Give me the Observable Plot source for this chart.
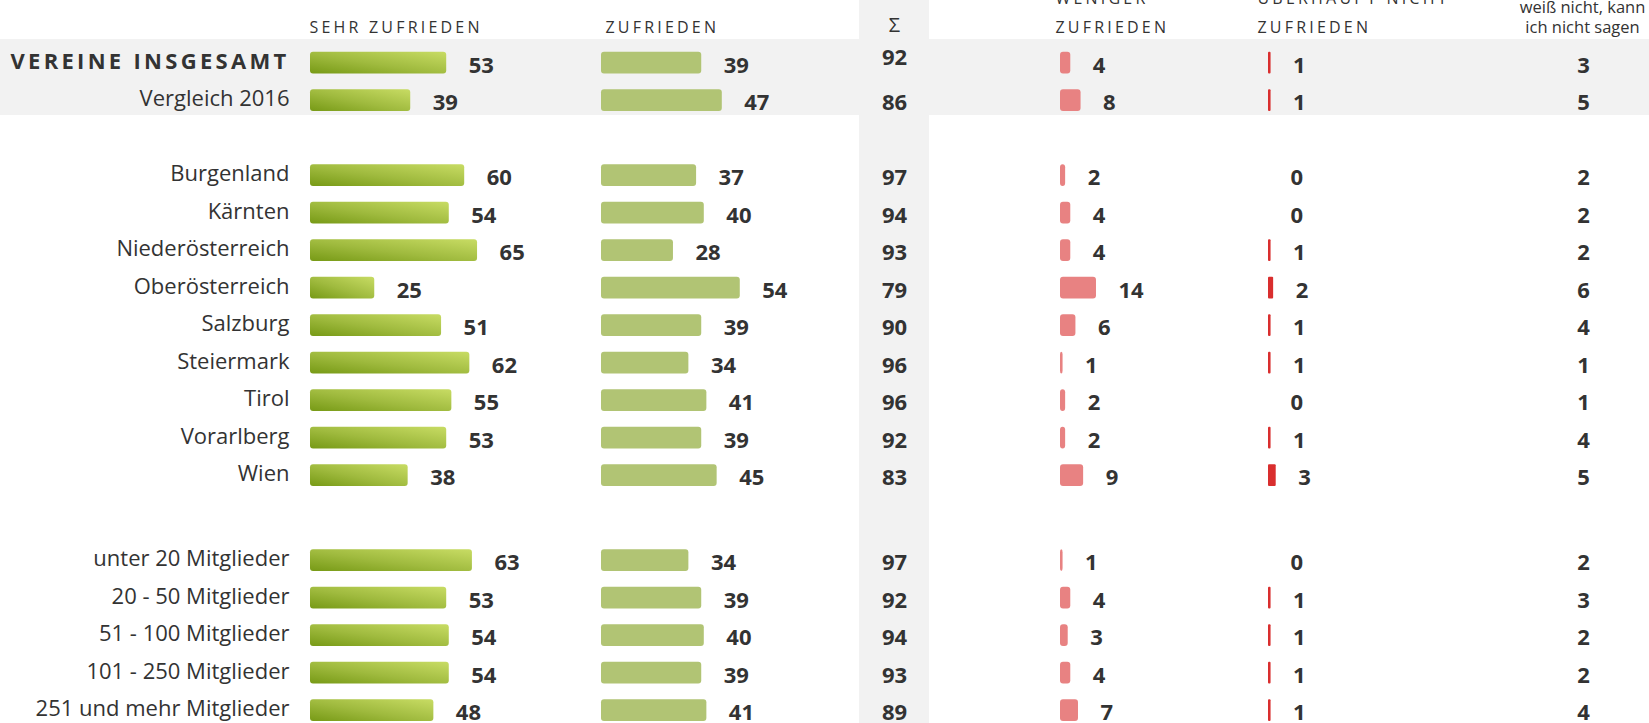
<!DOCTYPE html>
<html>
<head>
<meta charset="utf-8">
<script src="https://cdn.jsdelivr.net/npm/d3@7"></script>
<script src="https://cdn.jsdelivr.net/npm/@observablehq/plot@0.6"></script>
<style>
  html, body { margin: 0; padding: 0; background: #fff; overflow: hidden; }
</style>
</head>
<body>
<div id="chart"></div>
<script>
// ---------- DATA ----------
const totalRows = ["VEREINE INSGESAMT", "Vergleich 2016"];
const regionRows = ["Burgenland", "Kärnten", "Niederösterreich", "Oberösterreich", "Salzburg", "Steiermark", "Tirol", "Vorarlberg", "Wien"];
const sizeRows = ["unter 20 Mitglieder", "20 - 50 Mitglieder", "51 - 100 Mitglieder", "101 - 250 Mitglieder", "251 und mehr Mitglieder"];

const sehrZufrieden   = [53, 39, 60, 54, 65, 25, 51, 62, 55, 53, 38, 63, 53, 54, 54, 48];
const zufrieden       = [39, 47, 37, 40, 28, 54, 39, 34, 41, 39, 45, 34, 39, 40, 39, 41];
const summe           = [92, 86, 97, 94, 93, 79, 90, 96, 96, 92, 83, 97, 92, 94, 93, 89];
const wenigerZufr     = [4, 8, 2, 4, 4, 14, 6, 1, 2, 2, 9, 1, 4, 3, 4, 7];
const ueberhauptNicht = [1, 1, 0, 0, 1, 2, 1, 1, 0, 1, 3, 0, 1, 1, 1, 1];
const weissNicht      = [3, 5, 2, 2, 2, 6, 4, 1, 1, 4, 5, 2, 3, 2, 2, 4];

const headerSehr = "SEHR ZUFRIEDEN";
const headerZufr = "ZUFRIEDEN";
const headerSum = "Σ";
const headerWeniger = "WENIGER\nZUFRIEDEN";
const headerUeber = "ÜBERHAUPT NICHT\nZUFRIEDEN";
const headerWeiss = "weiß nicht, kann\nich nicht sagen";

// ---------- LAYOUT ----------
const W = 1649, H = 723;
const pxPerUnit = 2.57;      // pixels per percentage point
const originPx = 310;        // left edge of first bar column
const rowStep = 37.5, row0 = 62.5;
const u = px => (px - originPx) / pxPerUnit;   // pixel layout -> x units
const col = {
  label: u(289), sehr: u(310), zufr: u(601),
  sumL: u(859), sumR: u(929), sumC: u(894),
  wen: u(1060), ueb: u(1268), weiss: u(1583),
  hSehr: u(309), hZufr: u(605), hWen: u(1055), hUeb: u(1257), hWeiss: u(1582)
};
const groups = [totalRows, regionRows, sizeRows];
const gapAfter = [1, 1.27];
const rows = [];
let p = 0;
groups.forEach((g, gi) => {
  g.forEach(c => { rows.push({cat: c, pos: p, group: gi}); p += 1; });
  if (gi < gapAfter.length) p += gapAfter[gi];
});
rows.forEach((r, i) => {
  r.sehr = sehrZufrieden[i]; r.zufr = zufrieden[i]; r.sum = summe[i];
  r.wen = wenigerZufr[i]; r.ueb = ueberhauptNicht[i]; r.weiss = weissNicht[i];
});
const half = 0.29;
const topBand = [{y1: rows[0].pos - 0.627, y2: rows[1].pos + 0.4}];

const textColor = "#333333";
const gradientDefs = () => {
  const defs = d3.create("svg:defs");
  const g = defs.append("linearGradient").attr("id", "gSehr")
    .attr("x1", 0).attr("y1", 1).attr("x2", 1).attr("y2", 0);
  g.append("stop").attr("offset", "0%").attr("stop-color", "#779a16");
  g.append("stop").attr("offset", "45%").attr("stop-color", "#9fba3e");
  g.append("stop").attr("offset", "100%").attr("stop-color", "#c8dc64");
  return defs.node();
};

const valueLabel = (data, xfn, field, anchor = "start", dx = 22, dy = 2.5) => Plot.text(data, {
  x: xfn, y: "pos", text: d => String(d[field]),
  textAnchor: anchor, dx, dy,
  fontSize: 22, fontWeight: "bold", fill: textColor
});

const chart = Plot.plot({
  width: W, height: H,
  margin: 0,
  x: {domain: [u(0), u(W)], range: [0, W], axis: null},
  y: {domain: [(0 - row0) / rowStep, (H - row0) / rowStep], range: [0, H], axis: null},
  style: {fontFamily: "'Open Sans', sans-serif", background: "#fff", overflow: "visible"},
  marks: [
    gradientDefs,
    // backgrounds
    Plot.rect(topBand, {y1: "y1", y2: "y2", fill: "#f2f2f2"}),
    Plot.rect([0], {x1: col.sumL, x2: col.sumR, fill: "#f2f2f2"}),
    // bars
    Plot.rect(rows, {x1: col.sehr, x2: d => col.sehr + d.sehr, y1: d => d.pos - half, y2: d => d.pos + half, fill: "url(#gSehr)", rx: 3}),
    Plot.rect(rows, {x1: col.zufr, x2: d => col.zufr + d.zufr, y1: d => d.pos - half, y2: d => d.pos + half, fill: "#b1c474", rx: 3}),
    Plot.rect(rows, {x1: col.wen, x2: d => col.wen + d.wen, y1: d => d.pos - half, y2: d => d.pos + half, fill: "#e88282", rx: 3}),
    Plot.rect(rows.filter(d => d.ueb > 0), {x1: col.ueb, x2: d => col.ueb + d.ueb, y1: d => d.pos - half, y2: d => d.pos + half, fill: "#d92e2e", rx: 1}),
    // value labels
    valueLabel(rows, d => col.sehr + d.sehr, "sehr"),
    valueLabel(rows, d => col.zufr + d.zufr, "zufr"),
    valueLabel(rows.slice(0, 1), () => col.sumC, "sum", "middle", 0, -5),
    valueLabel(rows.slice(1), () => col.sumC, "sum", "middle", 0),
    valueLabel(rows, d => col.wen + d.wen, "wen"),
    valueLabel(rows, d => col.ueb + d.ueb, "ueb"),
    valueLabel(rows, () => col.weiss, "weiss", "middle", 0),
    // row labels
    Plot.text(rows.slice(0, 1), {x: () => col.label, y: "pos", text: "cat", textAnchor: "end", dy: -1.5,
      fontSize: 22, fontWeight: "bold", fill: textColor}),
    Plot.text(rows.slice(1), {x: () => col.label, y: "pos", text: "cat", textAnchor: "end", dy: -1.5,
      fontSize: 22, fill: textColor}),
    // headers
    Plot.text([
      {x: col.hSehr, t: headerSehr}, {x: col.hZufr, t: headerZufr},
      {x: col.hWen, t: headerWeniger}, {x: col.hUeb, t: headerUeber}
    ], {x: "x", text: "t", frameAnchor: "top", lineAnchor: "bottom", dy: 32, textAnchor: "start",
      fontSize: 16, lineHeight: 1.8125, fill: textColor}),
    Plot.text([{x: col.sumC, t: headerSum}], {x: "x", text: "t", frameAnchor: "top", lineAnchor: "middle", dy: 25,
      textAnchor: "middle", fontSize: 20, fill: textColor}),
    Plot.text([{x: col.hWeiss, t: headerWeiss}], {x: "x", text: "t", frameAnchor: "top", lineAnchor: "bottom", dy: 32,
      textAnchor: "middle", fontSize: 16.5, lineHeight: 20 / 16.5, fill: textColor})
  ]
});

// letter-spaced typography for the column headers and the total row label
const spacedHeaders = new Set([headerSehr, headerZufr, headerWeniger, headerUeber].map(s => s.replace(/\n/g, "")));
d3.select(chart).selectAll("text").each(function () {
  const t = this.textContent;
  if (spacedHeaders.has(t)) this.setAttribute("letter-spacing", "3.2px");
  else if (t === totalRows[0]) this.setAttribute("letter-spacing", "3.3px");
});
document.getElementById("chart").appendChild(chart);
</script>
</body>
</html>
